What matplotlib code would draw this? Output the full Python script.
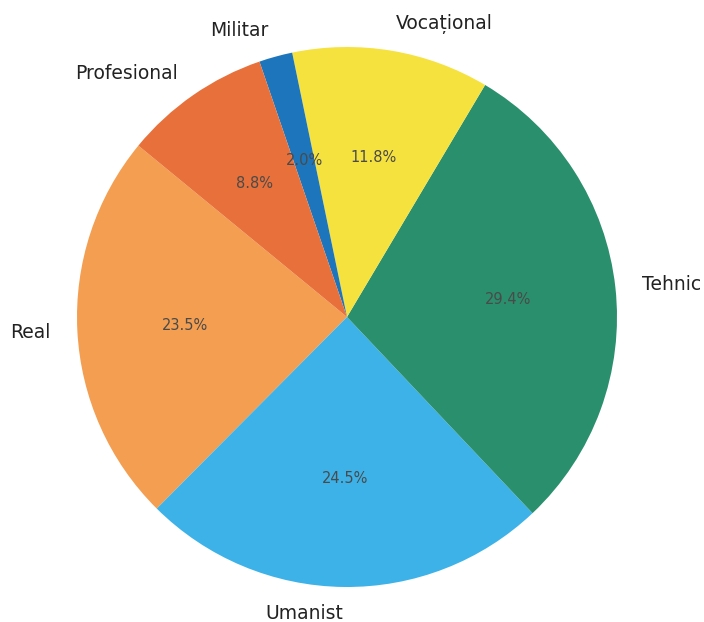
import matplotlib
matplotlib.use("Agg")
import matplotlib.pyplot as plt

labels = ["Real", "Umanist", "Tehnic", "Vocațional", "Militar", "Profesional"]
values = [23.5, 24.5, 29.4, 11.8, 2.0, 8.8]
colors = ["#F39E50", "#3DB2E8", "#2A8F6C", "#F6E23E", "#1D76BC", "#E8703A"]

fig = plt.figure(figsize=(7.04, 6.22), dpi=100)
ax = fig.add_axes([0, 0, 1, 1])
wedges, texts, autotexts = ax.pie(values, labels=labels, colors=colors,
                                  autopct="%1.1f%%", startangle=140.6,
                                  pctdistance=0.6, labeldistance=1.1,
                                  textprops={"fontsize": 13.5, "color": "#222222"})
for t in autotexts:
    t.set_fontsize(10.5)
    t.set_color("#4a4a4a")
ax.set_xlim(-347 / 270, (704 - 347) / 270)
ax.set_ylim(-305 / 270, 317 / 270)
ax.set_aspect("equal")
ax.axis("off")
fig.savefig("out.png", dpi=100)
